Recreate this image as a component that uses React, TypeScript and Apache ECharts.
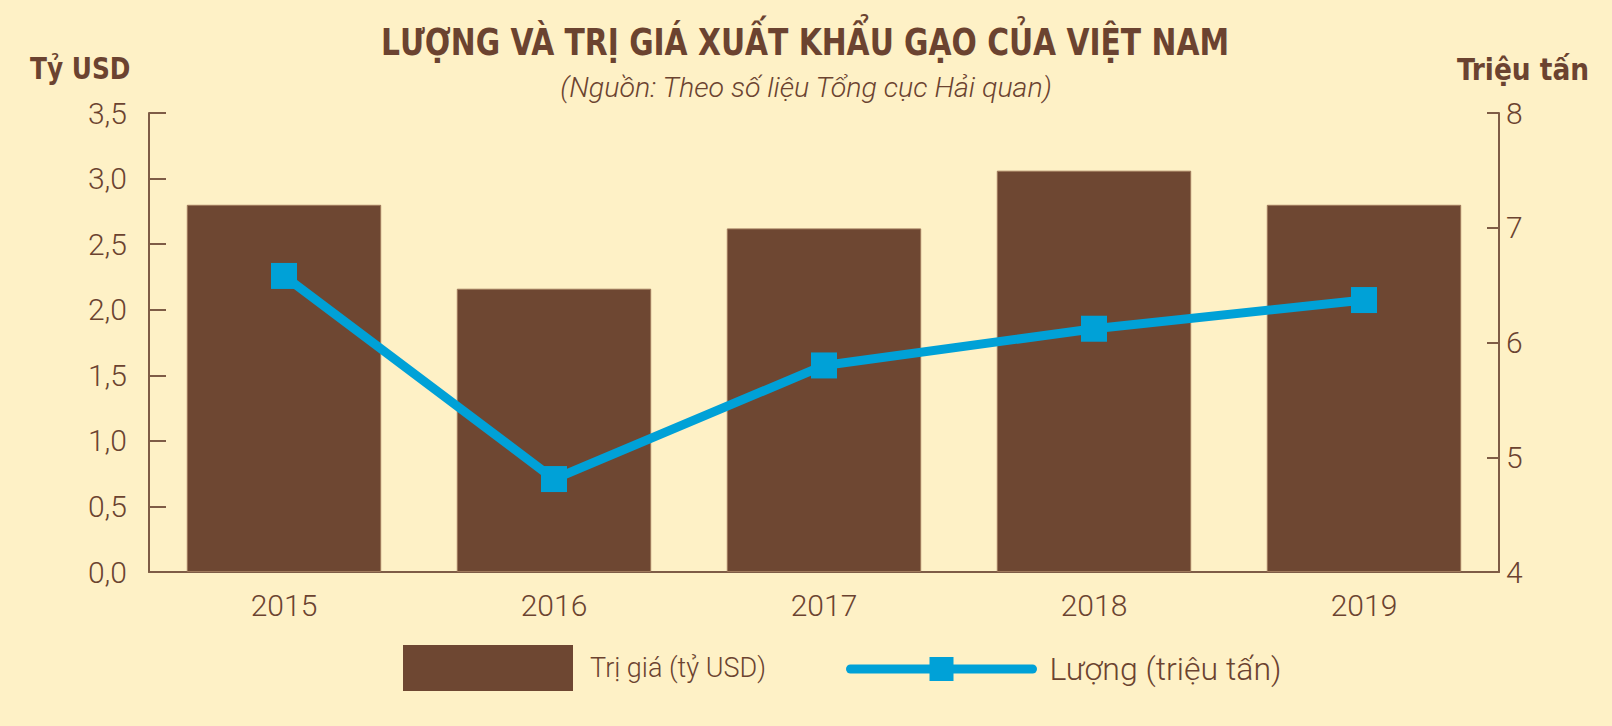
import React, { useEffect, useRef } from 'react';
import * as echarts from 'echarts';

// Dữ liệu biểu đồ
const years = ['2015', '2016', '2017', '2018', '2019'];
const valueUsd = [2.8, 2.16, 2.62, 3.06, 2.8]; // Trị giá (tỷ USD)
const volumeTons = [6.58, 4.81, 5.8, 6.12, 6.37]; // Lượng (triệu tấn)

const BG = '#fef1c6';
const BROWN = '#6e4732';
const TEXT = '#6b4330';
const AXIS = '#7e5c46';
const BLUE = '#00a1d7';

const LABEL_FONT = "Roboto, 'Noto Sans', sans-serif";
const BOLD_FONT = "'Liberation Sans Narrow', 'DejaVu Sans Condensed', 'Roboto', sans-serif";

const App: React.FC = () => {
  const chartRef = useRef<HTMLDivElement>(null);

  useEffect(() => {
    if (!chartRef.current) return;
    const chart = echarts.init(chartRef.current, undefined, { renderer: 'svg' });

    const boldText = (text: string, x: number, y: number, size: number, align: string, scaleX: number) => ({
      type: 'text',
      x,
      y,
      scaleX,
      style: {
        text,
        fill: TEXT,
        font: `bold ${size}px ${BOLD_FONT}`,
        textAlign: align,
        textVerticalAlign: 'top',
      },
    });

    const option: echarts.EChartsOption = {
      animation: false,
      backgroundColor: BG,
      graphic: [
        boldText('LƯỢNG VÀ TRỊ GIÁ XUẤT KHẨU GẠO CỦA VIỆT NAM', 805, 23, 38, 'center', 0.87),
        boldText('Tỷ USD', 30, 54, 30, 'left', 0.92),
        boldText('Triệu tấn', 1457, 54, 30, 'left', 0.98),
        {
          type: 'text',
          x: 806,
          y: 74,
          scaleX: 1.02,
          style: {
            text: '(Nguồn: Theo số liệu Tổng cục Hải quan)',
            fill: TEXT,
            font: `italic 300 28px ${LABEL_FONT}`,
            textAlign: 'center',
            textVerticalAlign: 'top',
          },
        },
      ] as any,
      legend: [
        {
          data: ['Trị giá (tỷ USD)'],
          left: 403,
          top: 645,
          padding: 0,
          icon: 'rect',
          itemWidth: 170,
          itemHeight: 46,
          selectedMode: false,
          itemStyle: { borderWidth: 0 },
          textStyle: { fontFamily: LABEL_FONT, fontWeight: 300, fontSize: 27, color: TEXT, padding: [0, 0, 0, 12] },
        },
        {
          data: ['Lượng (triệu tấn)'],
          left: 846,
          top: 653,
          padding: 0,
          itemWidth: 182,
          itemHeight: 30,
          selectedMode: false,
          lineStyle: { width: 9, cap: 'round' },
          textStyle: { fontFamily: LABEL_FONT, fontWeight: 300, fontSize: 32, color: TEXT, padding: [0, 0, 0, 12] },
        },
      ],
      grid: { left: 149, right: 113, top: 113, bottom: 154, containLabel: false },
      xAxis: {
        type: 'category',
        data: years,
        axisLine: { lineStyle: { color: AXIS, width: 2 } },
        axisTick: { inside: true, length: 11, lineStyle: { color: AXIS, width: 1.5 } },
        axisLabel: { margin: 18, fontFamily: LABEL_FONT, fontWeight: 300, fontSize: 30, color: TEXT },
      },
      yAxis: [
        {
          type: 'value',
          min: 0,
          max: 3.5,
          interval: 0.5,
          splitLine: { show: false },
          axisLine: { show: true, lineStyle: { color: AXIS, width: 2 } },
          axisTick: { show: true, inside: true, length: 17, lineStyle: { color: AXIS, width: 2 } },
          axisLabel: {
            margin: 22,
            fontFamily: LABEL_FONT,
            fontWeight: 300,
            fontSize: 30,
            color: TEXT,
            padding: [12, 0, 0, 0],
            formatter: (v: number) => v.toFixed(1).replace('.', ','),
          },
        },
        {
          type: 'value',
          min: 4,
          max: 8,
          interval: 1,
          position: 'right',
          splitLine: { show: false },
          axisLine: { show: true, lineStyle: { color: AXIS, width: 2 } },
          axisTick: { show: true, inside: true, length: 12, lineStyle: { color: AXIS, width: 2 } },
          axisLabel: {
            margin: 7,
            fontFamily: LABEL_FONT,
            fontWeight: 300,
            fontSize: 30,
            color: TEXT,
            padding: [12, 0, 0, 0],
          },
        },
      ],
      series: [
        {
          name: 'Trị giá (tỷ USD)',
          type: 'bar',
          data: valueUsd,
          yAxisIndex: 0,
          barWidth: '72%',
          itemStyle: { color: BROWN, borderColor: '#a07a5c', borderWidth: 1 },
        },
        {
          name: 'Lượng (triệu tấn)',
          type: 'line',
          data: volumeTons,
          yAxisIndex: 1,
          symbol: 'rect',
          symbolSize: 26,
          lineStyle: { color: BLUE, width: 9, cap: 'round' },
          itemStyle: { color: BLUE },
          z: 5,
        },
      ],
    };

    chart.setOption(option);
    return () => chart.dispose();
  }, []);

  return (
    <div
      ref={chartRef}
      style={{ position: 'fixed', left: 0, top: 0, width: 1612, height: 726, background: BG }}
    />
  );
};

export default App;
